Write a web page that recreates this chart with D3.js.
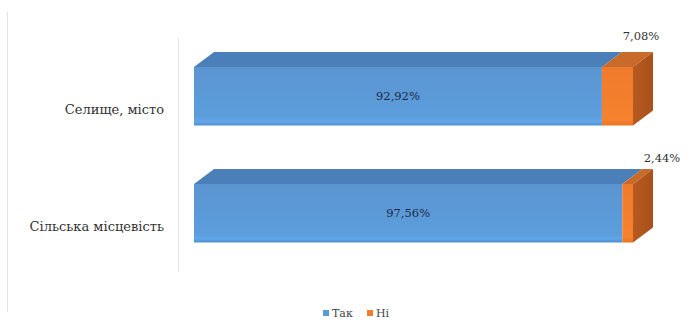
<!DOCTYPE html>
<html><head><meta charset="utf-8">
<script src="https://cdn.jsdelivr.net/npm/d3@7/dist/d3.min.js"></script>
<style>body{margin:0;background:#fff}svg{display:block}</style>
</head><body>
<svg id="c" width="691" height="331"></svg>
<script>
const categories = ["Селище, місто", "Сільська місцевість"];
const series = ["Так", "Ні"];
const yesValues = [92.92, 97.56];
const noValues = [7.08, 2.44];
const yesLabels = ["92,92%", "97,56%"];
const noLabels = ["7,08%", "2,44%"];

const svg = d3.select("#c");
const x = d3.scaleLinear().domain([0, 100]).range([194, 633]);
const y = d3.scaleBand().domain(categories).range([37.75, 271.75]).paddingInner(0.5).paddingOuter(0.25);
const DX = 20, DY = -15;
const FONT = "DejaVu Serif";

const defs = svg.append("defs");
function grad(id, stops, vertical=true){
  const g = defs.append("linearGradient").attr("id", id)
    .attr("x1",0).attr("y1",0).attr("x2", vertical?0:1).attr("y2", vertical?1:0);
  stops.forEach(s=>g.append("stop").attr("offset", s[0]).attr("stop-color", s[1]));
}
grad("blueFront", [[0,"#5a95d0"],[0.85,"#5c9ddc"],[0.93,"#62a6ea"],[1,"#4f8fd0"]]);
grad("orangeFront", [[0,"#ef7a2c"],[0.9,"#f5822e"],[1,"#e97526"]]);
grad("orangeSide", [[0,"#b65a20"],[1,"#a8511c"]], false);

svg.append("line").attr("x1",7.5).attr("x2",7.5).attr("y1",12).attr("y2",312).attr("stroke","#e4e4e4");
svg.append("line").attr("x1",178.5).attr("x2",178.5).attr("y1",38).attr("y2",272).attr("stroke","#e2e2e2");

const colors = {
  yes: {front:"url(#blueFront)", top:"#4b7fba", side:"#41709f"},
  no: {front:"url(#orangeFront)", top:"#c86a2a", side:"url(#orangeSide)"}
};

function box(g, x0, x1, y0, h, c, drawSide){
  g.append("path").attr("d", `M${x0},${y0} L${x0+DX},${y0+DY} L${x1+DX},${y0+DY} L${x1},${y0} Z`).attr("fill", c.top);
  if (drawSide) g.append("path").attr("d", `M${x1},${y0} L${x1+DX},${y0+DY} L${x1+DX},${y0+DY+h} L${x1},${y0+h} Z`).attr("fill", c.side);
  g.append("rect").attr("x", x0).attr("y", y0).attr("width", x1-x0).attr("height", h).attr("fill", c.front);
}

categories.forEach((cat, i) => {
  const g = svg.append("g");
  const y0 = y(cat), h = y.bandwidth();
  const xa = x(0), xb = x(yesValues[i]), xc = x(yesValues[i] + noValues[i]);
  box(g, xa, xb, y0, h, colors.yes, false);
  box(g, xb, xc, y0, h, colors.no, true);
  svg.append("text").attr("x", (xa+xb)/2).attr("y", y0 + h/2).attr("dy","0.35em")
    .attr("text-anchor","middle").attr("font-family", FONT).attr("font-size", 11.5)
    .attr("fill","#1f2a44").text(yesLabels[i]);
  svg.append("text").attr("x", 164).attr("y", y0 + h/2 + 13).attr("dy","0.35em")
    .attr("text-anchor","end").attr("font-family", FONT).attr("font-size", 13)
    .attr("fill","#333").text(cat);
});

const noLabelOffsets = [[8, -16], [29, -11]];
categories.forEach((cat, i) => {
  const y0 = y(cat) + DY;
  svg.append("text").attr("x", x(100) + noLabelOffsets[i][0]).attr("y", y0 + noLabelOffsets[i][1]).attr("dy","0.35em")
    .attr("text-anchor","middle").attr("font-family", FONT).attr("font-size", 11.5)
    .attr("fill","#333").text(noLabels[i]);
});

const legend = svg.append("g");
const legendItems = [{name: series[0], color:"#5b9bd5", x:323}, {name: series[1], color:"#ed7d31", x:367}];
legendItems.forEach(it => {
  legend.append("rect").attr("x", it.x).attr("y", 310).attr("width", 6).attr("height", 6).attr("fill", it.color);
  legend.append("text").attr("x", it.x + 9).attr("y", 313).attr("dy","0.35em")
    .attr("font-family", FONT).attr("font-size", 11).attr("fill","#444").text(it.name);
});
</script>
</body></html>
